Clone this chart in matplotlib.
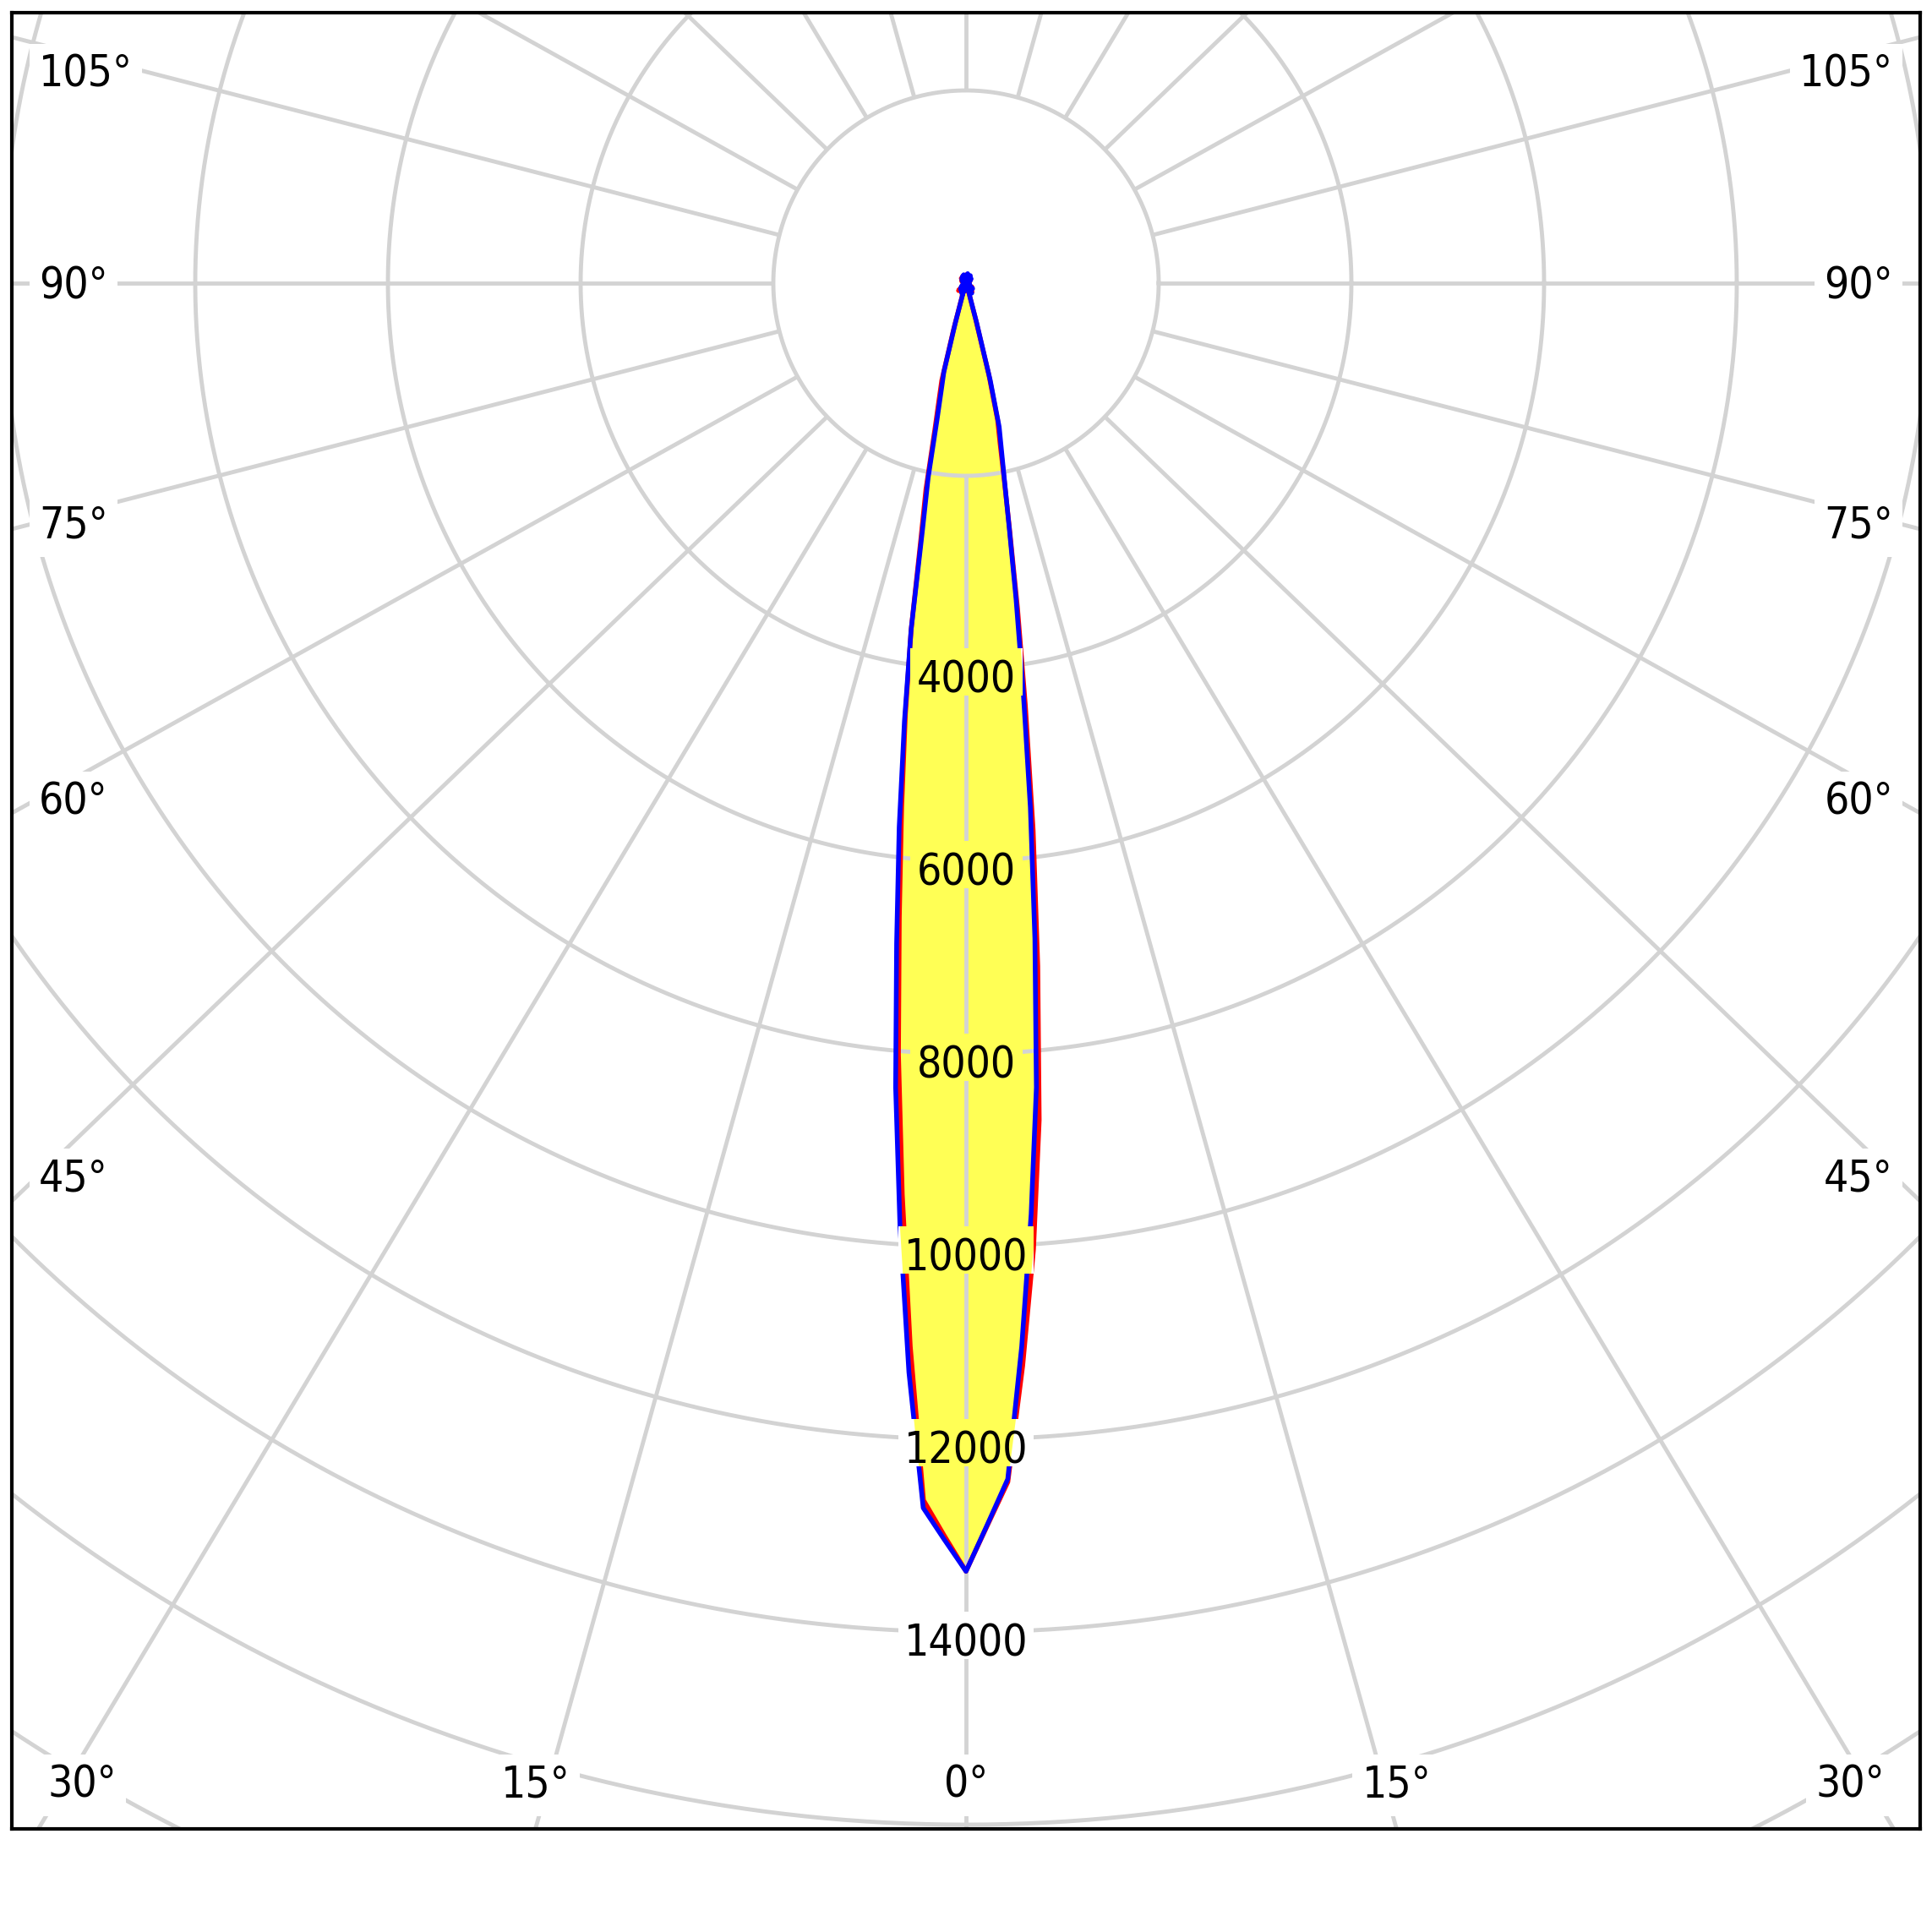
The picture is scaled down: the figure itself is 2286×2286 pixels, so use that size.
import numpy as np
import matplotlib
matplotlib.use("Agg")
import matplotlib.pyplot as plt
from matplotlib.patches import Rectangle

# ---------------- data (candela vs gamma angle) ----------------
gamma = [0, 1, 2, 3, 4, 5, 6, 7, 8, 9, 10, 11, 12, 13, 14, 15, 16, 17, 18,
         20, 25, 30, 35, 40, 45, 50, 55, 60, 65, 70, 75, 80, 85, 90, 95, 100,
         105, 110, 115, 120, 125, 130, 135, 140, 145, 150, 155, 160, 165, 170,
         175, 180]

# C0 (red, right half)
c0 = [13370, 12890, 12450, 11250, 10050, 8720, 7130, 5720, 4430, 3420, 2620,
      2080, 1700, 1460, 980, 380, 130, 70, 110,
      30, 90, 10, 110, 20, 60, 10, 80, 10, 40, 10, 20, 10, 30, 10, 20, 10,
      40, 10, 30, 10, 60, 10, 50, 10, 80, 10, 60, 10, 70, 10, 90, 0]
# C180 (red, left half)
c180 = [13370, 13000, 12640, 11050, 9480, 8040, 6620, 5480, 4520, 3640, 2700,
        2180, 1560, 1250, 1040, 500, 180, 60, 130,
        20, 100, 15, 70, 10, 110, 10, 50, 10, 30, 10, 20, 10, 30, 10, 20, 10,
        30, 10, 50, 10, 40, 10, 70, 10, 60, 10, 80, 10, 50, 10, 70, 0]
# C90 (blue, right half)
c90 = [13370, 12880, 12420, 11050, 9690, 8380, 6840, 5480, 4260, 3320, 2590,
       2100, 1770, 1530, 1040, 430, 150, 110, 60,
       100, 20, 120, 15, 70, 10, 90, 10, 50, 10, 40, 10, 30, 10, 20, 10, 20,
       10, 30, 10, 50, 10, 70, 10, 60, 10, 90, 10, 70, 10, 100, 10, 0]
# C270 (blue, left half)
c270 = [13370, 13040, 12720, 11320, 9820, 8380, 6890, 5690, 4590, 3640, 2600,
        2060, 1440, 1140, 950, 430, 150, 90, 120,
        40, 110, 20, 90, 15, 80, 10, 60, 10, 40, 10, 30, 10, 20, 10, 20, 10,
        30, 10, 40, 10, 50, 10, 60, 10, 70, 10, 80, 10, 90, 10, 60, 0]

ring_values = [2000, 4000, 6000, 8000, 10000, 12000, 14000, 16000, 18000, 20000]
ring_label_values = [4000, 6000, 8000, 10000, 12000, 14000]
ring_labels = ["4000", "6000", "8000", "10000", "12000", "14000"]
spoke_angles = list(range(0, 360, 15))
label_angles = [0, 15, 30, 45, 60, 75, 90, 105]
label_texts = ["0°", "15°", "30°", "45°", "60°", "75°", "90°", "105°"]

# ---------------- styles / layout ----------------
GRID = "#d3d3d3"
YELLOW = "#ffff55"
FS = 37
FONT = dict(family="DejaVu Sans", stretch="condensed")
FIG_PX, DPI = 2286, 100
FRAME_L, FRAME_R, FRAME_T, FRAME_B = 14, 2272, 15, 2164
CX, CY = 1143, 335          # pole position (px)
K = 0.1140                  # px per cd
S = 0.962                   # vertical squeeze of the spoke directions
PX = 1.0 / K                # cd per px
HALF_EM = 0.3645 * FS * DPI / 72.0

fig = plt.figure(figsize=(FIG_PX / DPI, FIG_PX / DPI), dpi=DPI)
ax = fig.add_axes([FRAME_L / FIG_PX, 1 - FRAME_B / FIG_PX,
                   (FRAME_R - FRAME_L) / FIG_PX, (FRAME_B - FRAME_T) / FIG_PX])
ax.set_xlim((FRAME_L - CX) * PX, (FRAME_R - CX) * PX)
ax.set_ylim(-(FRAME_B - CY) * PX, (CY - FRAME_T) * PX)
ax.set_xticks([])
ax.set_yticks([])
for sp in ax.spines.values():
    sp.set_linewidth(3.0)
    sp.set_color("black")
    sp.set_zorder(10)


def px2data(xp, yp):
    return (xp - CX) * PX, -(yp - CY) * PX


def spoke_dir(phi, side=1.0):
    d = np.array([side * np.sin(np.radians(phi)), -np.cos(np.radians(phi)) * S])
    return d / np.linalg.norm(d)


# rings
t = np.linspace(0, 2 * np.pi, 1441)
for R in ring_values:
    ax.plot(R * np.cos(t), R * np.sin(t), color=GRID, lw=3.5, zorder=2)

# spokes
for phi in spoke_angles:
    u = spoke_dir(phi)
    ax.plot([2000 * u[0], 40000 * u[0]], [2000 * u[1], 40000 * u[1]],
            color=GRID, lw=3.5, zorder=2, solid_capstyle="butt")

# curves
g = np.radians(gamma)


def outline(left, right):
    left = np.asarray(left, float)
    right = np.asarray(right, float)
    xl, yl = -left * np.sin(g), -left * np.cos(g)
    xr, yr = right * np.sin(g), -right * np.cos(g)
    return np.concatenate([xl[::-1], xr]), np.concatenate([yl[::-1], yr])


red_xy = outline(c180, c0)
blue_xy = outline(c270, c90)
for xy in (red_xy, blue_xy):
    ax.fill(xy[0], xy[1], color=YELLOW, lw=0, zorder=1)
ax.plot(red_xy[0], red_xy[1], color="#ff0000", lw=4, zorder=3,
        solid_joinstyle="round")
ax.plot(blue_xy[0], blue_xy[1], color="#0000ff", lw=4, zorder=3.1,
        solid_joinstyle="round")

# ring labels (white box, the yellow beam shows through inside the box)
DIG_W = 27
for v, lab in zip(ring_label_values, ring_labels):
    w = (len(lab) * DIG_W + 25) * PX
    y0 = -v - 32 * PX
    h = 56 * PX
    ax.add_patch(Rectangle((-w / 2, y0), w, h, fc="white", ec="none", zorder=4))
    clip = Rectangle((-w / 2, y0), w, h, transform=ax.transData)
    for xy in (red_xy, blue_xy):
        f = ax.fill(xy[0], xy[1], color=YELLOW, lw=0, zorder=5)[0]
        f.set_clip_path(clip)
    ax.text(0, -v - (10 + HALF_EM) * PX, lab, ha="center", va="baseline",
            fontsize=FS, zorder=6, **FONT)

# angle labels along the frame
BOX = dict(boxstyle="square,pad=0.22", fc="white", ec="none")
for phi, lab in zip(label_angles, label_texts):
    sides = [1.0] if phi == 0 else [-1.0, 1.0]
    for side in sides:
        dxp = side * np.sin(np.radians(phi))
        dyp = np.cos(np.radians(phi)) * S
        if phi <= 30:
            tt = (FRAME_B - CY) / dyp
            xb = CX + tt * dxp
            xb = min(max(xb, CX - 1046), CX + 1046)
            x, y = px2data(xb, 2108 + HALF_EM)
            ax.text(x, y, lab, ha="center", va="baseline", fontsize=FS,
                    zorder=6, bbox=BOX, **FONT)
        else:
            xa = 46 if side < 0 else 2240
            tt = (xa - CX) / dxp
            yc = max(CY + tt * dyp, 84)
            x, y = px2data(xa, yc + HALF_EM)
            ax.text(x, y, lab, ha="left" if side < 0 else "right",
                    va="baseline", fontsize=FS, zorder=6, bbox=BOX, **FONT)

fig.savefig("out.png", dpi=DPI, facecolor="white")
